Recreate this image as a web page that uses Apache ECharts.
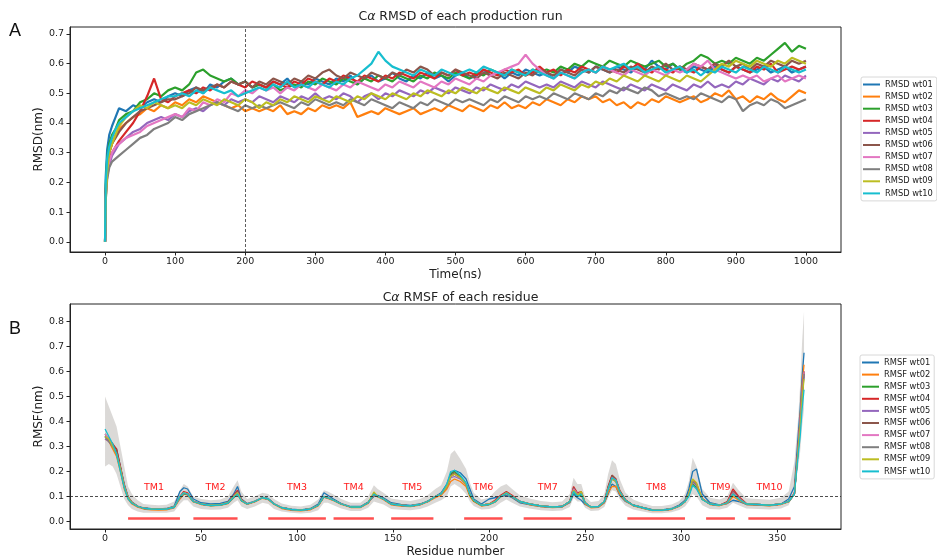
<!DOCTYPE html>
<html>
<head>
<meta charset="utf-8">
<script src="https://cdn.jsdelivr.net/npm/echarts@6/dist/echarts.min.js"></script>
<style>html,body{margin:0;padding:0;background:#fff}#c{width:937px;height:559px}</style>
</head>
<body>
<div id="c"></div>
<script>
// ---------- Panel A: RMSD ----------
const rmsdTime = [0,1,3,6,10,15,20,
30,40,50,60,70,80,90,100,110,120,
130,140,150,160,170,180,190,200,210,220,
230,240,250,260,270,280,290,300,310,320,
330,340,350,360,370,380,390,400,410,420,
430,440,450,460,470,480,490,500,510,520,
530,540,550,560,570,580,590,600,610,620,
630,640,650,660,670,680,690,700,710,720,
730,740,750,760,770,780,790,800,810,820,
830,840,850,860,870,880,890,900,910,920,
930,940,950,960,970,980,990,1000];
const rmsdNames = ['RMSD wt01','RMSD wt02','RMSD wt03','RMSD wt04','RMSD wt05','RMSD wt06','RMSD wt07','RMSD wt08','RMSD wt09','RMSD wt10'];
const rmsdWt01 = [0,0.22,0.31,0.36,0.39,0.42,0.45,
0.44,0.46,0.45,0.47,0.48,0.47,0.49,0.50,0.49,0.51,
0.52,0.50,0.53,0.52,0.54,0.55,0.53,0.54,0.52,0.53,
0.52,0.54,0.53,0.55,0.52,0.54,0.53,0.55,0.54,0.53,
0.55,0.54,0.56,0.53,0.55,0.56,0.54,0.55,0.57,0.55,
0.54,0.56,0.55,0.57,0.55,0.56,0.54,0.56,0.57,0.55,
0.56,0.58,0.56,0.57,0.55,0.57,0.56,0.58,0.57,0.56,
0.57,0.55,0.58,0.57,0.59,0.58,0.57,0.59,0.58,0.57,
0.59,0.58,0.57,0.59,0.58,0.61,0.59,0.58,0.60,0.58,
0.57,0.59,0.58,0.57,0.59,0.58,0.57,0.59,0.58,0.57,
0.58,0.59,0.57,0.58,0.59,0.57,0.58,0.59];
const rmsdWt02 = [0,0.16,0.25,0.30,0.33,0.36,0.38,
0.40,0.42,0.43,0.45,0.44,0.46,0.45,0.47,0.46,0.48,
0.47,0.49,0.48,0.47,0.46,0.45,0.46,0.44,0.45,0.44,
0.45,0.44,0.46,0.43,0.44,0.43,0.45,0.44,0.46,0.45,
0.46,0.45,0.47,0.42,0.43,0.44,0.43,0.45,0.44,0.43,
0.44,0.45,0.43,0.44,0.45,0.44,0.46,0.45,0.44,0.46,
0.45,0.44,0.46,0.45,0.47,0.45,0.46,0.45,0.47,0.46,
0.48,0.47,0.46,0.48,0.47,0.49,0.48,0.49,0.47,0.48,
0.46,0.47,0.45,0.47,0.46,0.48,0.47,0.49,0.48,0.47,
0.48,0.49,0.47,0.48,0.50,0.49,0.51,0.48,0.49,0.47,
0.49,0.48,0.50,0.48,0.47,0.49,0.51,0.50];
const rmsdWt03 = [0,0.19,0.28,0.33,0.36,0.38,0.41,
0.43,0.44,0.47,0.48,0.50,0.49,0.51,0.52,0.51,0.53,
0.57,0.58,0.56,0.55,0.54,0.55,0.53,0.54,0.52,0.53,
0.52,0.53,0.51,0.52,0.53,0.52,0.54,0.53,0.55,0.54,
0.53,0.55,0.54,0.53,0.55,0.54,0.56,0.55,0.54,0.56,
0.55,0.54,0.56,0.55,0.57,0.56,0.55,0.57,0.56,0.55,
0.57,0.56,0.58,0.57,0.56,0.58,0.57,0.56,0.58,0.57,
0.58,0.57,0.59,0.58,0.60,0.59,0.61,0.60,0.59,0.61,
0.60,0.59,0.61,0.60,0.59,0.60,0.61,0.59,0.60,0.58,
0.60,0.61,0.63,0.62,0.60,0.61,0.60,0.62,0.61,0.60,
0.62,0.61,0.63,0.65,0.67,0.64,0.66,0.65];
const rmsdWt04 = [0,0.17,0.24,0.28,0.30,0.32,0.34,
0.37,0.40,0.44,0.49,0.55,0.48,0.47,0.49,0.50,0.51,
0.50,0.52,0.51,0.53,0.52,0.54,0.53,0.52,0.54,0.53,
0.52,0.54,0.53,0.52,0.54,0.53,0.55,0.54,0.53,0.55,
0.54,0.56,0.55,0.54,0.56,0.55,0.54,0.56,0.55,0.57,
0.56,0.55,0.57,0.56,0.55,0.57,0.56,0.58,0.56,0.57,
0.56,0.58,0.57,0.56,0.58,0.57,0.58,0.56,0.57,0.59,
0.57,0.58,0.56,0.58,0.57,0.59,0.58,0.57,0.59,0.58,
0.57,0.59,0.58,0.60,0.58,0.57,0.59,0.58,0.57,0.59,
0.58,0.57,0.59,0.58,0.60,0.58,0.57,0.59,0.58,0.57,
0.59,0.58,0.60,0.57,0.58,0.59,0.58,0.59];
const rmsdWt05 = [0,0.15,0.22,0.26,0.29,0.31,0.33,
0.35,0.37,0.38,0.40,0.41,0.42,0.41,0.43,0.42,0.44,
0.45,0.44,0.46,0.47,0.46,0.48,0.47,0.48,0.47,0.49,
0.48,0.47,0.49,0.48,0.47,0.49,0.48,0.50,0.48,0.49,
0.48,0.50,0.49,0.47,0.49,0.50,0.48,0.50,0.49,0.51,
0.50,0.49,0.51,0.50,0.52,0.51,0.50,0.52,0.51,0.50,
0.52,0.51,0.53,0.52,0.51,0.53,0.52,0.54,0.53,0.52,
0.53,0.52,0.54,0.53,0.52,0.54,0.53,0.52,0.54,0.53,
0.52,0.51,0.53,0.52,0.51,0.53,0.52,0.51,0.53,0.52,
0.51,0.53,0.52,0.54,0.52,0.53,0.52,0.54,0.53,0.55,
0.54,0.53,0.55,0.54,0.56,0.55,0.54,0.56];
const rmsdWt06 = [0,0.18,0.26,0.30,0.33,0.35,0.37,
0.40,0.42,0.44,0.45,0.46,0.47,0.48,0.48,0.49,0.50,
0.52,0.51,0.52,0.53,0.52,0.54,0.53,0.54,0.52,0.54,
0.53,0.55,0.54,0.53,0.55,0.54,0.56,0.55,0.57,0.58,
0.56,0.55,0.57,0.56,0.55,0.57,0.56,0.55,0.57,0.56,
0.58,0.57,0.59,0.58,0.56,0.57,0.56,0.58,0.57,0.56,
0.55,0.57,0.56,0.55,0.57,0.56,0.55,0.57,0.56,0.58,
0.57,0.56,0.58,0.57,0.56,0.58,0.57,0.59,0.58,0.57,
0.58,0.57,0.59,0.58,0.57,0.59,0.58,0.60,0.58,0.59,
0.58,0.60,0.59,0.58,0.60,0.59,0.61,0.59,0.60,0.58,
0.60,0.59,0.61,0.60,0.59,0.61,0.60,0.61];
const rmsdWt07 = [0,0.15,0.22,0.27,0.30,0.32,0.33,
0.35,0.36,0.37,0.39,0.40,0.41,0.42,0.43,0.42,0.45,
0.44,0.47,0.46,0.48,0.47,0.50,0.49,0.51,0.50,0.52,
0.51,0.52,0.50,0.52,0.51,0.53,0.52,0.51,0.53,0.52,
0.51,0.53,0.52,0.54,0.53,0.52,0.51,0.53,0.52,0.54,
0.53,0.52,0.54,0.53,0.52,0.54,0.53,0.55,0.54,0.53,
0.55,0.54,0.56,0.57,0.58,0.59,0.60,0.63,0.60,0.58,
0.56,0.55,0.57,0.56,0.55,0.57,0.58,0.57,0.59,0.58,
0.57,0.56,0.58,0.57,0.56,0.58,0.57,0.56,0.58,0.57,
0.58,0.60,0.59,0.61,0.58,0.57,0.56,0.55,0.56,0.55,
0.56,0.54,0.55,0.56,0.54,0.55,0.56,0.55];
const rmsdWt08 = [0,0.14,0.21,0.25,0.27,0.28,0.29,
0.31,0.33,0.35,0.36,0.38,0.39,0.40,0.42,0.41,0.43,
0.44,0.45,0.46,0.47,0.46,0.45,0.44,0.46,0.45,0.46,
0.45,0.46,0.47,0.46,0.45,0.47,0.46,0.48,0.47,0.46,
0.47,0.46,0.48,0.47,0.46,0.48,0.47,0.46,0.45,0.47,
0.46,0.45,0.47,0.46,0.48,0.47,0.46,0.48,0.47,0.48,
0.47,0.46,0.48,0.47,0.49,0.48,0.47,0.49,0.48,0.49,
0.48,0.50,0.49,0.48,0.50,0.49,0.48,0.50,0.49,0.51,
0.50,0.52,0.51,0.50,0.52,0.51,0.49,0.50,0.49,0.48,
0.49,0.48,0.50,0.49,0.48,0.47,0.49,0.48,0.44,0.46,
0.47,0.46,0.48,0.47,0.45,0.46,0.47,0.48];
const rmsdWt09 = [0,0.14,0.24,0.30,0.33,0.36,0.39,
0.42,0.44,0.46,0.45,0.47,0.46,0.45,0.46,0.45,0.47,
0.46,0.48,0.47,0.46,0.48,0.47,0.46,0.48,0.47,0.45,
0.47,0.46,0.48,0.47,0.49,0.48,0.47,0.49,0.48,0.47,
0.49,0.48,0.47,0.49,0.48,0.50,0.49,0.48,0.50,0.49,
0.48,0.50,0.49,0.51,0.50,0.49,0.51,0.50,0.52,0.51,
0.50,0.52,0.51,0.50,0.52,0.51,0.50,0.52,0.51,0.50,
0.52,0.51,0.53,0.52,0.51,0.53,0.52,0.54,0.53,0.55,
0.54,0.56,0.55,0.54,0.56,0.55,0.54,0.56,0.55,0.54,
0.56,0.55,0.54,0.56,0.58,0.60,0.59,0.61,0.60,0.59,
0.61,0.60,0.59,0.61,0.60,0.62,0.61,0.60];
const rmsdWt10 = [0,0.20,0.28,0.32,0.35,0.38,0.40,
0.42,0.44,0.45,0.46,0.47,0.48,0.49,0.49,0.50,0.49,
0.51,0.50,0.52,0.51,0.50,0.51,0.49,0.50,0.51,0.52,
0.51,0.53,0.52,0.54,0.52,0.53,0.52,0.54,0.53,0.52,
0.54,0.53,0.55,0.56,0.58,0.60,0.64,0.61,0.59,0.58,
0.57,0.56,0.58,0.57,0.56,0.58,0.57,0.56,0.57,0.58,
0.57,0.59,0.58,0.57,0.56,0.58,0.57,0.56,0.58,0.57,
0.56,0.55,0.57,0.56,0.55,0.57,0.58,0.57,0.59,0.58,
0.59,0.60,0.58,0.59,0.57,0.58,0.59,0.57,0.58,0.59,
0.57,0.58,0.56,0.58,0.57,0.59,0.58,0.57,0.59,0.58,
0.57,0.59,0.58,0.57,0.59,0.58,0.57,0.58];
const rmsdValues = [rmsdWt01,rmsdWt02,rmsdWt03,rmsdWt04,rmsdWt05,rmsdWt06,rmsdWt07,rmsdWt08,rmsdWt09,rmsdWt10];
const rmsdXTicks = [0,100,200,300,400,500,600,700,800,900,1000];
const rmsdYTicks = [0,0.1,0.2,0.3,0.4,0.5,0.6,0.7];
const equilTime = 200;

// ---------- Panel B: RMSF ----------
const residues = [0,2,4,6,8,10,12,14,17,20,
24,28,32,36,39,41,43,46,50,55,
60,64,67,69,71,74,78,82,85,88,
92,97,102,107,111,114,116,119,123,128,
133,137,140,142,145,149,154,159,164,168,
172,175,178,180,182,185,188,190,192,196,
200,203,206,209,212,216,221,227,233,238,
242,244,246,248,250,253,257,260,262,264,
266,268,271,275,280,285,290,295,299,302,
304,306,308,311,315,320,324,327,330,334,
340,346,352,356,359,361,362,363,364];
const rmsfNames = ['RMSF wt01','RMSF wt02','RMSF wt03','RMSF wt04','RMSF wt05','RMSF wt06','RMSF wt07','RMSF wt08','RMSF wt09','RMSF wt10'];
const rmsfWt01 = [0.34,0.32,0.30,0.29,0.22,0.15,0.10,0.078,0.062,0.055,
0.051,0.05,0.052,0.062,0.12,0.135,0.13,0.09,0.075,0.07,
0.072,0.08,0.11,0.14,0.09,0.072,0.082,0.097,0.092,0.072,
0.056,0.049,0.046,0.052,0.07,0.115,0.105,0.09,0.072,0.06,
0.06,0.078,0.10,0.105,0.095,0.075,0.068,0.064,0.07,0.082,
0.10,0.115,0.15,0.19,0.205,0.195,0.17,0.13,0.09,0.07,
0.09,0.095,0.10,0.105,0.095,0.075,0.068,0.06,0.057,0.059,
0.075,0.11,0.095,0.085,0.068,0.057,0.058,0.075,0.11,0.15,
0.14,0.105,0.08,0.066,0.056,0.047,0.046,0.052,0.066,0.085,
0.13,0.20,0.21,0.11,0.075,0.066,0.072,0.085,0.08,0.068,
0.066,0.064,0.07,0.09,0.14,0.35,0.45,0.58,0.675];
const rmsfWt02 = [0.33,0.32,0.29,0.26,0.20,0.13,0.09,0.07,0.057,0.05,
0.047,0.046,0.047,0.055,0.09,0.11,0.105,0.078,0.068,0.063,
0.065,0.072,0.095,0.11,0.082,0.068,0.078,0.093,0.088,0.068,
0.052,0.045,0.043,0.047,0.062,0.097,0.092,0.083,0.068,0.056,
0.056,0.072,0.105,0.098,0.087,0.067,0.062,0.06,0.066,0.078,
0.095,0.105,0.13,0.16,0.17,0.16,0.14,0.10,0.08,0.062,
0.067,0.077,0.098,0.112,0.098,0.078,0.067,0.06,0.056,0.058,
0.077,0.12,0.105,0.11,0.07,0.055,0.057,0.075,0.115,0.14,
0.14,0.11,0.082,0.063,0.053,0.044,0.044,0.048,0.06,0.078,
0.11,0.165,0.15,0.09,0.068,0.063,0.072,0.10,0.085,0.068,
0.066,0.063,0.068,0.078,0.11,0.30,0.42,0.55,0.627];
const rmsfWt03 = [0.35,0.33,0.30,0.27,0.21,0.14,0.095,0.074,0.06,0.053,
0.05,0.049,0.05,0.057,0.095,0.11,0.11,0.08,0.07,0.064,
0.066,0.074,0.097,0.11,0.083,0.07,0.08,0.095,0.09,0.07,
0.055,0.048,0.045,0.05,0.065,0.098,0.095,0.085,0.07,0.058,
0.058,0.075,0.11,0.10,0.09,0.07,0.065,0.062,0.068,0.08,
0.10,0.11,0.14,0.19,0.20,0.18,0.15,0.105,0.082,0.064,
0.068,0.078,0.10,0.113,0.10,0.08,0.07,0.062,0.058,0.06,
0.08,0.12,0.10,0.105,0.075,0.058,0.06,0.08,0.13,0.175,
0.165,0.12,0.085,0.065,0.055,0.045,0.045,0.05,0.062,0.08,
0.105,0.15,0.135,0.088,0.07,0.065,0.075,0.11,0.09,0.07,
0.068,0.065,0.07,0.08,0.11,0.29,0.38,0.50,0.60];
const rmsfWt04 = [0.34,0.33,0.31,0.29,0.22,0.145,0.097,0.076,0.06,0.053,
0.05,0.049,0.05,0.058,0.10,0.12,0.115,0.082,0.07,0.065,
0.067,0.076,0.105,0.125,0.088,0.07,0.08,0.095,0.09,0.07,
0.055,0.048,0.045,0.05,0.065,0.10,0.095,0.085,0.07,0.058,
0.058,0.075,0.112,0.10,0.09,0.07,0.065,0.062,0.068,0.08,
0.10,0.11,0.14,0.18,0.19,0.175,0.15,0.11,0.085,0.065,
0.07,0.085,0.105,0.12,0.105,0.08,0.07,0.062,0.058,0.06,
0.08,0.14,0.115,0.12,0.075,0.058,0.06,0.08,0.14,0.185,
0.17,0.125,0.087,0.065,0.055,0.045,0.045,0.05,0.062,0.08,
0.11,0.165,0.15,0.092,0.07,0.065,0.08,0.13,0.10,0.072,
0.068,0.065,0.07,0.08,0.115,0.31,0.41,0.52,0.60];
const rmsfWt05 = [0.33,0.32,0.30,0.27,0.21,0.14,0.095,0.075,0.06,0.053,
0.05,0.049,0.05,0.058,0.095,0.115,0.11,0.08,0.07,0.065,
0.067,0.075,0.10,0.118,0.085,0.07,0.08,0.095,0.09,0.07,
0.055,0.048,0.045,0.05,0.065,0.10,0.095,0.085,0.07,0.058,
0.058,0.075,0.11,0.10,0.09,0.07,0.065,0.062,0.068,0.08,
0.10,0.11,0.14,0.175,0.18,0.17,0.15,0.11,0.085,0.065,
0.07,0.08,0.10,0.115,0.10,0.08,0.07,0.062,0.058,0.06,
0.08,0.13,0.11,0.115,0.075,0.058,0.06,0.08,0.13,0.17,
0.16,0.12,0.085,0.065,0.055,0.045,0.045,0.05,0.062,0.08,
0.11,0.16,0.145,0.09,0.07,0.065,0.075,0.12,0.095,0.07,
0.068,0.065,0.07,0.08,0.11,0.29,0.39,0.50,0.58];
const rmsfWt06 = [0.34,0.33,0.31,0.285,0.215,0.14,0.095,0.075,0.06,0.053,
0.05,0.049,0.05,0.058,0.095,0.115,0.11,0.08,0.07,0.065,
0.067,0.075,0.10,0.12,0.085,0.07,0.08,0.095,0.09,0.07,
0.055,0.048,0.045,0.05,0.065,0.10,0.095,0.085,0.07,0.058,
0.058,0.075,0.11,0.10,0.09,0.07,0.065,0.062,0.068,0.08,
0.10,0.11,0.14,0.185,0.195,0.175,0.15,0.11,0.085,0.065,
0.07,0.08,0.10,0.118,0.10,0.08,0.07,0.062,0.058,0.06,
0.08,0.135,0.11,0.115,0.075,0.058,0.06,0.08,0.14,0.185,
0.17,0.125,0.087,0.065,0.055,0.045,0.045,0.05,0.062,0.08,
0.11,0.16,0.145,0.09,0.07,0.065,0.078,0.12,0.095,0.07,
0.068,0.065,0.07,0.08,0.11,0.30,0.40,0.51,0.59];
const rmsfWt07 = [0.35,0.33,0.30,0.27,0.21,0.14,0.095,0.075,0.06,0.053,
0.05,0.049,0.05,0.058,0.095,0.115,0.11,0.08,0.07,0.065,
0.067,0.075,0.10,0.115,0.085,0.07,0.08,0.095,0.09,0.07,
0.055,0.048,0.045,0.05,0.065,0.10,0.095,0.085,0.07,0.058,
0.058,0.075,0.11,0.10,0.09,0.07,0.065,0.062,0.068,0.08,
0.10,0.11,0.14,0.18,0.19,0.175,0.15,0.11,0.085,0.065,
0.07,0.08,0.10,0.115,0.10,0.08,0.07,0.062,0.058,0.06,
0.08,0.13,0.11,0.115,0.075,0.058,0.06,0.08,0.13,0.175,
0.165,0.12,0.085,0.065,0.055,0.045,0.045,0.05,0.062,0.08,
0.11,0.16,0.145,0.09,0.07,0.065,0.075,0.115,0.092,0.07,
0.068,0.065,0.07,0.08,0.11,0.30,0.41,0.52,0.60];
const rmsfWt08 = [0.34,0.32,0.30,0.27,0.21,0.14,0.095,0.075,0.06,0.053,
0.05,0.049,0.05,0.058,0.095,0.112,0.108,0.08,0.07,0.065,
0.067,0.075,0.098,0.112,0.085,0.07,0.08,0.095,0.09,0.07,
0.055,0.048,0.045,0.05,0.065,0.098,0.094,0.085,0.07,0.058,
0.058,0.075,0.108,0.10,0.09,0.07,0.065,0.062,0.068,0.08,
0.10,0.11,0.14,0.18,0.19,0.175,0.15,0.11,0.085,0.065,
0.07,0.08,0.10,0.115,0.10,0.08,0.07,0.062,0.058,0.06,
0.08,0.125,0.108,0.112,0.075,0.058,0.06,0.08,0.13,0.17,
0.16,0.12,0.085,0.065,0.055,0.045,0.045,0.05,0.062,0.08,
0.11,0.16,0.145,0.09,0.07,0.065,0.075,0.112,0.09,0.07,
0.068,0.065,0.07,0.08,0.11,0.30,0.40,0.51,0.59];
const rmsfWt09 = [0.34,0.33,0.30,0.27,0.21,0.14,0.095,0.075,0.06,0.053,
0.05,0.049,0.05,0.058,0.098,0.115,0.11,0.08,0.07,0.065,
0.067,0.075,0.10,0.115,0.085,0.07,0.08,0.095,0.09,0.07,
0.055,0.048,0.045,0.05,0.065,0.10,0.095,0.085,0.07,0.058,
0.058,0.075,0.118,0.10,0.09,0.07,0.065,0.062,0.068,0.08,
0.10,0.11,0.14,0.18,0.19,0.175,0.15,0.11,0.085,0.065,
0.07,0.08,0.10,0.115,0.10,0.08,0.07,0.062,0.058,0.06,
0.08,0.125,0.105,0.12,0.075,0.058,0.06,0.08,0.13,0.17,
0.16,0.12,0.085,0.065,0.055,0.045,0.045,0.05,0.062,0.08,
0.11,0.17,0.155,0.09,0.07,0.065,0.075,0.11,0.09,0.07,
0.068,0.065,0.07,0.08,0.11,0.29,0.38,0.49,0.57];
const rmsfWt10 = [0.37,0.34,0.31,0.27,0.20,0.135,0.09,0.073,0.06,0.053,
0.05,0.049,0.05,0.057,0.10,0.115,0.11,0.08,0.07,0.064,
0.066,0.074,0.097,0.11,0.083,0.07,0.08,0.095,0.09,0.07,
0.055,0.048,0.045,0.05,0.065,0.10,0.095,0.085,0.07,0.058,
0.058,0.075,0.11,0.10,0.09,0.07,0.065,0.062,0.068,0.08,
0.10,0.11,0.15,0.20,0.205,0.185,0.155,0.11,0.085,0.065,
0.068,0.078,0.10,0.113,0.10,0.08,0.07,0.062,0.058,0.06,
0.08,0.12,0.10,0.11,0.075,0.058,0.06,0.08,0.13,0.175,
0.165,0.12,0.085,0.065,0.055,0.045,0.045,0.05,0.062,0.08,
0.10,0.145,0.13,0.088,0.07,0.065,0.075,0.11,0.09,0.07,
0.068,0.065,0.07,0.08,0.11,0.27,0.34,0.45,0.527];
const rmsfValues = [rmsfWt01,rmsfWt02,rmsfWt03,rmsfWt04,rmsfWt05,rmsfWt06,rmsfWt07,rmsfWt08,rmsfWt09,rmsfWt10];
const rmsfBandLow = [0.22,0.23,0.22,0.19,0.14,0.09,0.065,0.05,0.04,0.035,
0.035,0.035,0.035,0.04,0.07,0.085,0.085,0.06,0.05,0.047,
0.048,0.055,0.075,0.085,0.06,0.05,0.06,0.075,0.07,0.05,
0.04,0.035,0.032,0.035,0.045,0.075,0.075,0.065,0.052,0.042,
0.042,0.055,0.08,0.075,0.068,0.05,0.047,0.045,0.05,0.06,
0.075,0.085,0.10,0.14,0.15,0.135,0.11,0.08,0.062,0.048,
0.05,0.058,0.075,0.088,0.075,0.06,0.052,0.045,0.042,0.044,
0.058,0.095,0.08,0.08,0.055,0.042,0.044,0.058,0.095,0.125,
0.12,0.09,0.063,0.048,0.04,0.033,0.033,0.037,0.046,0.06,
0.08,0.11,0.10,0.065,0.05,0.048,0.055,0.075,0.065,0.052,
0.05,0.048,0.052,0.065,0.12,0.22,0.28,0.38,0.45];
const rmsfBandHigh = [0.50,0.46,0.42,0.38,0.30,0.22,0.14,0.11,0.085,0.07,
0.067,0.065,0.067,0.08,0.125,0.15,0.14,0.10,0.09,0.085,
0.088,0.10,0.14,0.165,0.12,0.09,0.10,0.115,0.11,0.09,
0.072,0.063,0.06,0.067,0.088,0.125,0.12,0.108,0.09,0.075,
0.075,0.10,0.145,0.13,0.115,0.092,0.086,0.082,0.09,0.105,
0.13,0.145,0.20,0.27,0.285,0.25,0.21,0.155,0.115,0.088,
0.095,0.12,0.14,0.15,0.13,0.105,0.092,0.082,0.077,0.08,
0.11,0.175,0.15,0.15,0.10,0.078,0.082,0.11,0.19,0.245,
0.23,0.17,0.115,0.088,0.073,0.062,0.062,0.068,0.082,0.11,
0.16,0.255,0.22,0.13,0.095,0.088,0.10,0.155,0.125,0.093,
0.09,0.087,0.095,0.12,0.24,0.42,0.55,0.72,0.84];
const tmNames = ['TM1','TM2','TM3','TM4','TM5','TM6','TM7','TM8','TM9','TM10'];
const tmStart = [12,46,85,119,149,187,218,272,313,335];
const tmEnd   = [39,69,115,140,171,207,243,302,328,357];
const tmBarLevel = 0.012;
const tmLabelLevel = 0.134;
const rmsfRef = 0.1;
const rmsfXTicks = [0,50,100,150,200,250,300,350];
const rmsfYTicks = [0,0.1,0.2,0.3,0.4,0.5,0.6,0.7,0.8];

// ---------- styling ----------
const colors = ['#1f77b4','#ff7f0e','#2ca02c','#d62728','#9467bd','#8c564b','#e377c2','#7f7f7f','#bcbd22','#17becf'];
const FONT = 'DejaVu Sans';
const ink = '#222';

function xAxisCfg(gi, min, max, ticks, name, fmt){
  return {type:'value', gridIndex:gi, min:min, max:max, name:name, nameLocation:'middle', nameGap:17,
    nameTextStyle:{fontFamily:FONT, fontSize:12, color:ink},
    axisLine:{show:true, onZero:false, lineStyle:{color:ink, width:1}},
    axisTick:{show:true, length:3.5, customValues:ticks, lineStyle:{color:ink}},
    axisLabel:{show:true, margin:5, customValues:ticks, formatter:fmt, fontFamily:FONT, fontSize:9.5, color:ink},
    splitLine:{show:false}};
}
function yAxisCfg(gi, min, max, ticks, name){
  return {type:'value', gridIndex:gi, min:min, max:max, name:name, nameLocation:'middle', nameGap:25,
    nameMoveOverlap:false,
    nameTextStyle:{fontFamily:FONT, fontSize:12, color:ink},
    axisLine:{show:true, onZero:false, lineStyle:{color:ink, width:1}},
    axisTick:{show:true, length:3.5, customValues:ticks, lineStyle:{color:ink}},
    axisLabel:{show:true, margin:6, customValues:ticks, formatter:v=>v.toFixed(1), fontFamily:FONT, fontSize:9.5, color:ink},
    splitLine:{show:false}};
}

const series = [];
rmsdValues.forEach((vals, k) => {
  const s = {name:rmsdNames[k], type:'line', xAxisIndex:0, yAxisIndex:0, showSymbol:false, symbol:'none',
    data: rmsdTime.map((t,i)=>[t, vals[i]]), lineStyle:{width:2.2, color:colors[k], join:'bevel'}, itemStyle:{color:colors[k]}, z:3};
  if (k === 0) {
    s.markLine = {silent:true, symbol:'none', label:{show:false},
      lineStyle:{type:[3,2], color:'#333', width:0.8}, data:[{xAxis:equilTime}]};
  }
  series.push(s);
});
// grey spread band drawn as one polygon through the axis scales
series.push({name:'band', type:'custom', xAxisIndex:1, yAxisIndex:1, silent:true, z:1,
  data:[[residues[0], rmsfBandLow[0]]],
  renderItem:function(params, api){
    const top = residues.map((r,i)=>api.coord([r, rmsfBandHigh[i]]));
    const bot = residues.map((r,i)=>api.coord([r, rmsfBandLow[i]])).reverse();
    return {type:'polygon', shape:{points:top.concat(bot)}, style:{fill:'rgba(160,155,150,0.38)'}};
  }});
rmsfValues.forEach((vals, k) => {
  const s = {name:rmsfNames[k], type:'line', xAxisIndex:1, yAxisIndex:1, showSymbol:false, symbol:'none',
    data: residues.map((r,i)=>[r, vals[i]]), lineStyle:{width:1.3, color:colors[k]}, itemStyle:{color:colors[k]}, z:3};
  if (k === 0) {
    s.markLine = {silent:true, symbol:'none', label:{show:false},
      lineStyle:{type:[3,2], color:'#222', width:0.8}, data:[{yAxis:rmsfRef}]};
  }
  series.push(s);
});
// TM bars
tmNames.forEach((n, k) => {
  series.push({name:n, type:'line', xAxisIndex:1, yAxisIndex:1, symbol:'none', silent:true,
    data:[[tmStart[k], tmBarLevel],[tmEnd[k], tmBarLevel]],
    lineStyle:{width:2.6, color:'rgba(255,60,60,0.9)'}, z:4});
});
// TM labels
series.push({name:'tmLabels', type:'scatter', xAxisIndex:1, yAxisIndex:1, symbolSize:1, silent:true,
  itemStyle:{opacity:0},
  data: tmNames.map((n,k)=>({value:[(tmStart[k]+tmEnd[k])/2, tmLabelLevel], name:n})),
  label:{show:true, position:'inside', formatter:p=>p.name, color:'#ff1a1a', opacity:1, textBorderWidth:0,
    fontFamily:FONT, fontSize:9.5}, z:5});

const legendBase = {orient:'vertical', icon:'rect', itemWidth:17, itemHeight:2, itemGap:2.1,
  backgroundColor:'rgba(255,255,255,0.8)', borderColor:'#d8d8d8', borderWidth:1, borderRadius:2,
  padding:[2.5,4,2.5,2], textStyle:{fontFamily:FONT, fontSize:8.3, color:'#222', lineHeight:10}};

const option = {
  animation:false,
  backgroundColor:'#fff',
  title:[
    {text:'C{a|α} RMSD of each production run', left:455.5, textAlign:'center', top:5,
      textStyle:{fontFamily:FONT, fontSize:12.5, fontWeight:'normal', color:ink,
        rich:{a:{fontFamily:FONT, fontSize:12.5, fontStyle:'italic', color:ink}}}},
    {text:'C{a|α} RMSF of each residue', left:455.5, textAlign:'center', top:286,
      textStyle:{fontFamily:FONT, fontSize:12.5, fontWeight:'normal', color:ink,
        rich:{a:{fontFamily:FONT, fontSize:12.5, fontStyle:'italic', color:ink}}}}
  ],
  legend:[
    Object.assign({}, legendBase, {left:861, top:77, data:rmsdNames}),
    Object.assign({}, legendBase, {left:860, top:355, data:rmsfNames})
  ],
  grid:[
    {left:70, top:27, width:771, height:225, show:true, borderColor:ink, borderWidth:1, backgroundColor:'transparent'},
    {left:70, top:304, width:771, height:225, show:true, borderColor:ink, borderWidth:1, backgroundColor:'transparent'}
  ],
  xAxis:[
    xAxisCfg(0, -50, 1050, rmsdXTicks, 'Time(ns)', v=>String(v)),
    xAxisCfg(1, -18.25, 383.25, rmsfXTicks, 'Residue number', v=>String(v))
  ],
  yAxis:[
    yAxisCfg(0, -0.0345, 0.7235, rmsdYTicks, 'RMSD(nm)'),
    yAxisCfg(1, -0.03, 0.87, rmsfYTicks, 'RMSF(nm)')
  ],
  graphic:[
    {type:'text', left:9, top:22, style:{text:'A', font:'18px "Liberation Sans"', fill:'#111'}},
    {type:'text', left:9, top:320, style:{text:'B', font:'18px "Liberation Sans"', fill:'#111'}}
  ],
  series:series
};
const chart = echarts.init(document.getElementById('c'), null, {renderer:'canvas'});
chart.setOption(option);
</script>
</body>
</html>
